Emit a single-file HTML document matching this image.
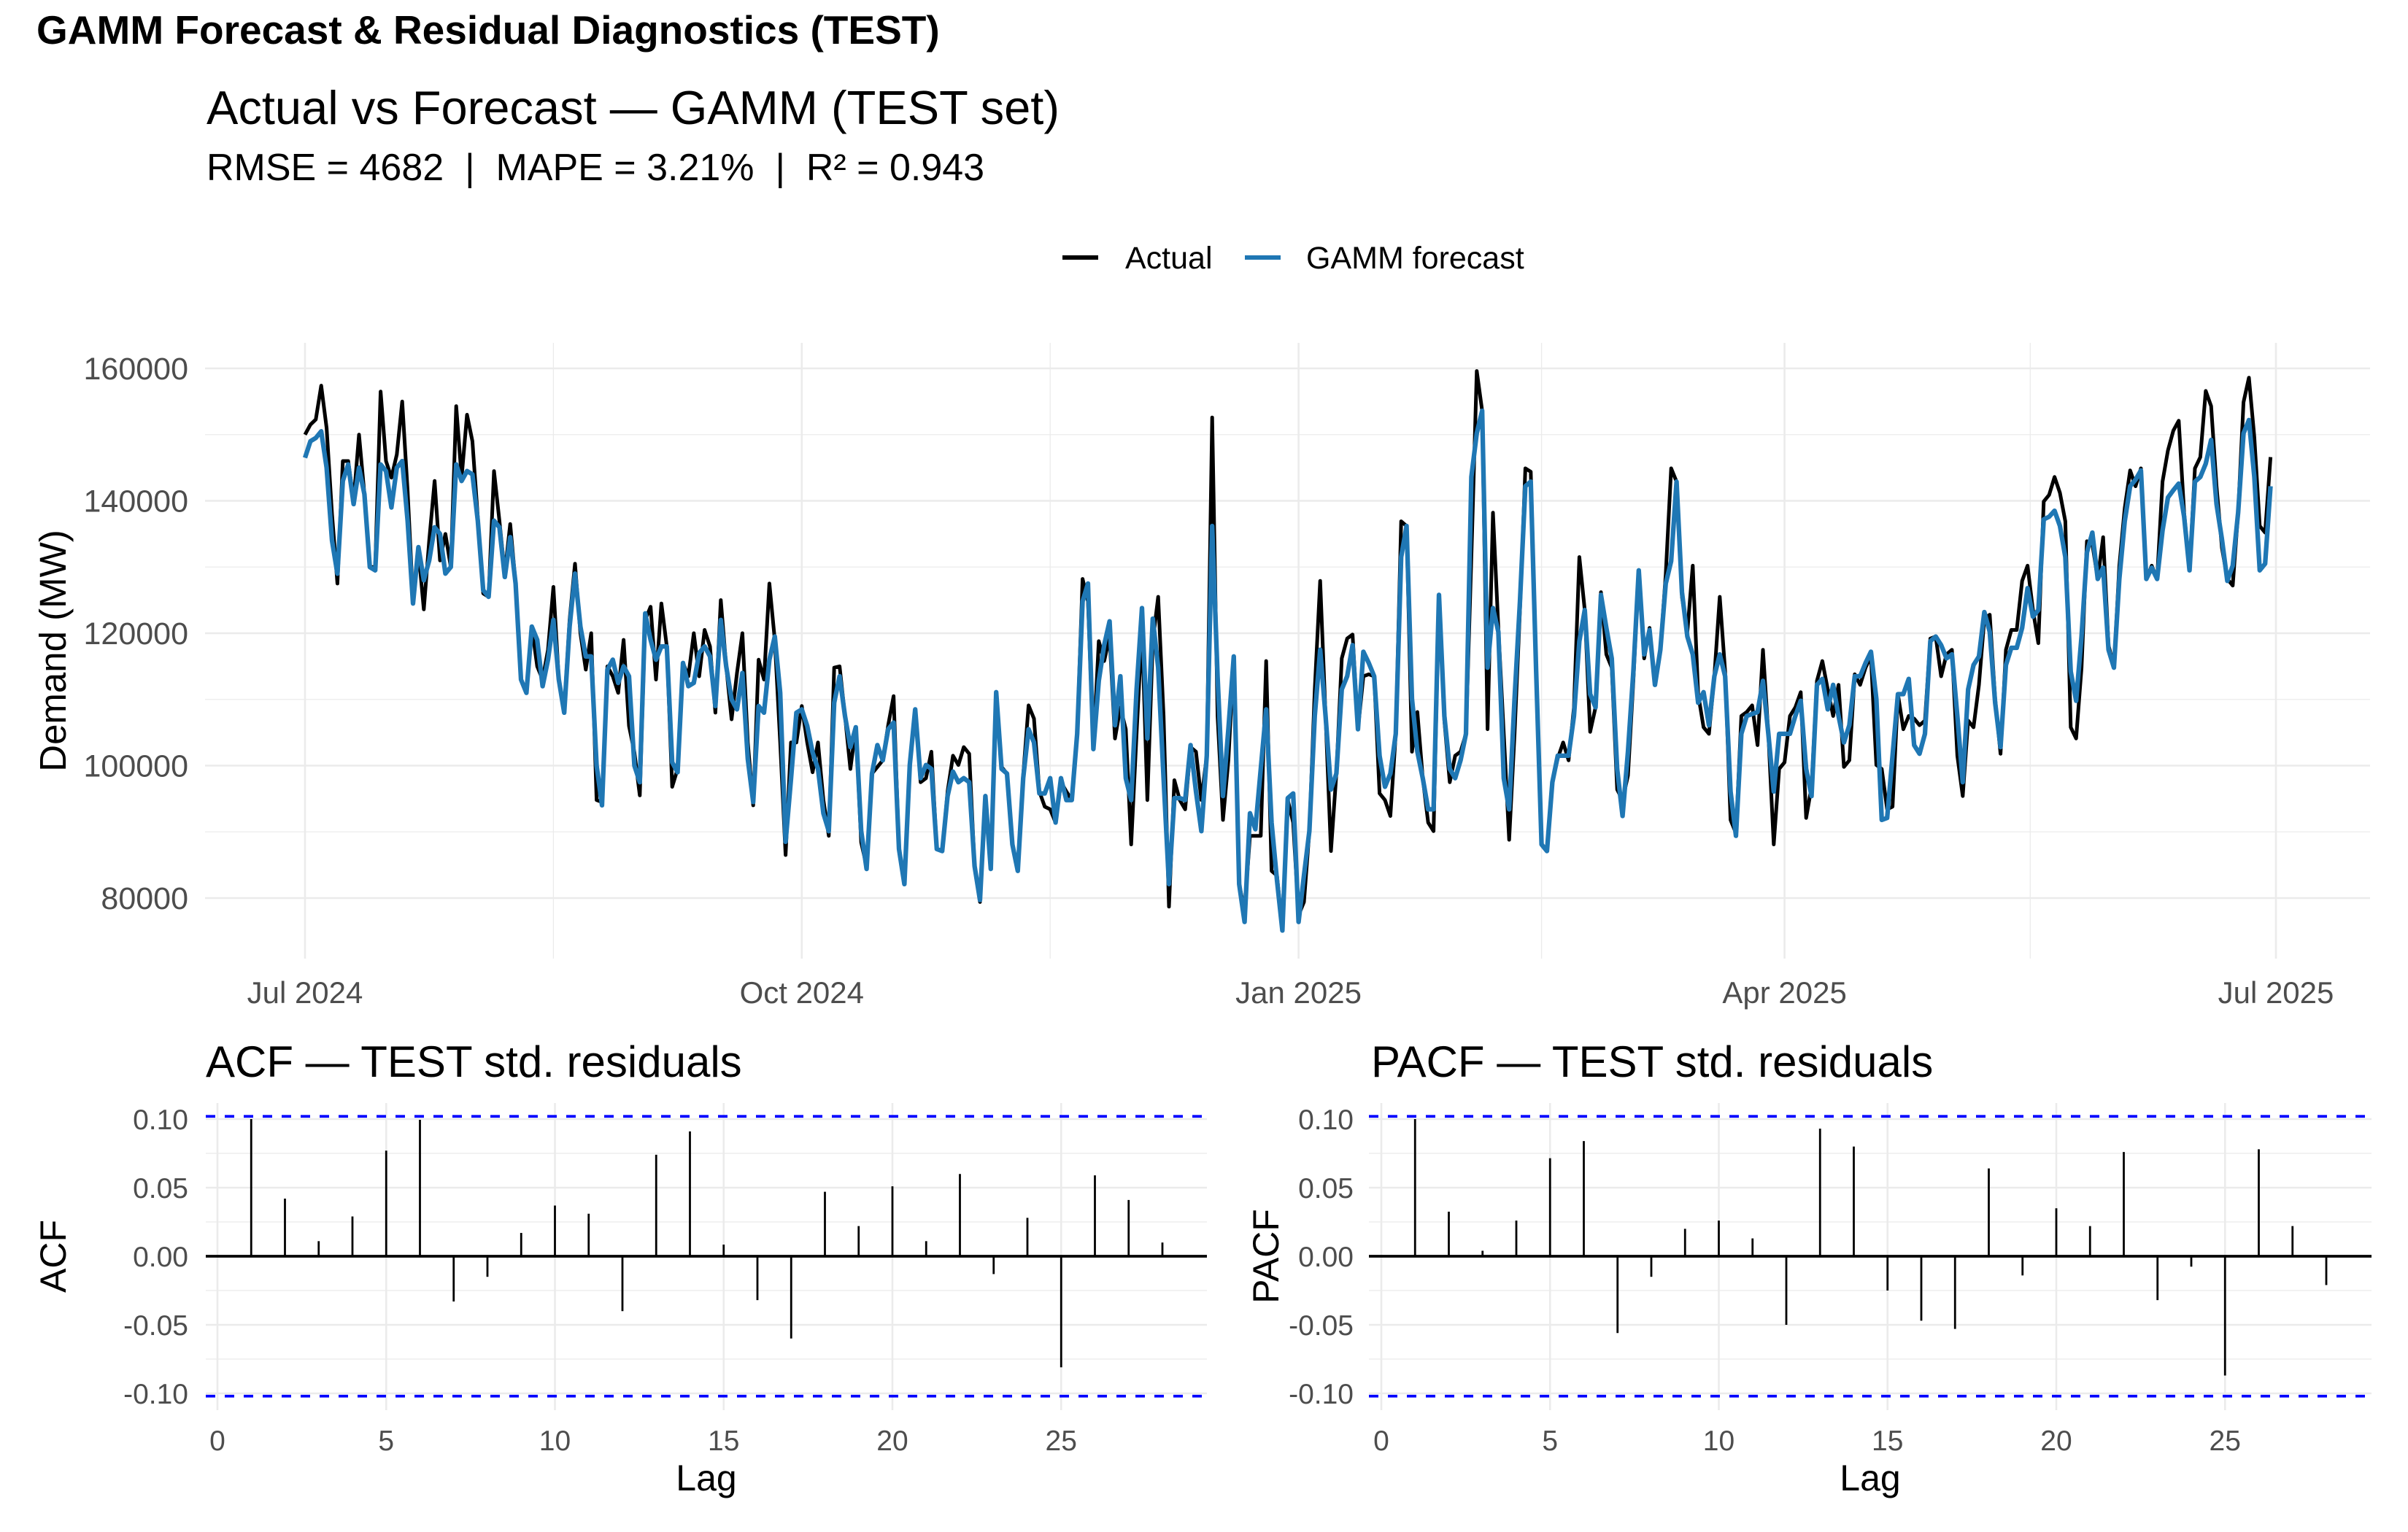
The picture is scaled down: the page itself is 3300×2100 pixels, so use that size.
<!DOCTYPE html>
<html><head><meta charset="utf-8">
<style>
html,body{margin:0;padding:0;background:#fff;}
svg{display:block;font-family:"Liberation Sans",Arial,sans-serif;}
</style></head>
<body>
<svg id="chart" width="3300" height="2100" viewBox="0 0 3300 2100" xmlns="http://www.w3.org/2000/svg">
<rect x="0" y="0" width="3300" height="2100" fill="#ffffff"/>
<text x="50" y="60" font-size="55" font-weight="bold" fill="#000">GAMM Forecast &amp; Residual Diagnostics (TEST)</text>
<text x="283" y="170" font-size="65" fill="#000">Actual vs Forecast — GAMM (TEST set)</text>
<text x="283" y="247" font-size="52" fill="#000" style="white-space:pre" xml:space="preserve">RMSE = 4682  |  MAPE = 3.21%  |  R² = 0.943</text>
<g>
<line x1="1456" y1="353" x2="1505" y2="353" stroke="#000" stroke-width="6"/>
<text x="1542" y="368" font-size="43" fill="#000">Actual</text>
<line x1="1706" y1="353" x2="1755" y2="353" stroke="#1f77b4" stroke-width="6"/>
<text x="1790" y="368" font-size="43" fill="#000">GAMM forecast</text>
</g>
<g id="main"></g>
<g id="acf"></g>
<g id="pacf"></g>
</svg>
<script>
const actual = [150000,151500,152300,157400,151000,138000,127500,146000,146000,140000,150000,141000,130000,130000,156500,146000,143500,147000,155000,141500,125000,132500,123600,134000,143000,131000,135000,130000,154300,143500,153000,149000,137500,126000,125500,144500,137000,129000,136500,127500,113000,111000,121000,115000,113000,117500,127000,113000,108500,122000,130500,120000,114500,120000,94800,94500,115000,113500,111000,119000,106000,102000,95500,122000,124000,113000,124500,118000,96800,99500,115500,113500,120000,113500,120500,118000,108000,125000,115000,107000,114000,120000,103500,94000,116000,113000,127500,119000,103500,86500,103500,103500,
109000,103500,99000,103500,94800,89400,114800,115000,107500,99500,105800,88400,84800,98800,99800,100800,106100,110500,87400,82100,100100,108500,97500,98100,102100,87400,87100,96100,101500,100100,102800,101800,84800,79400,95400,84400,111100,99800,98800,88100,84100,98500,109100,107100,96100,93800,93400,91400,97500,96100,94800,104800,128200,124800,102500,118800,115800,119500,104100,108800,105500,88100,104800,120800,94800,118800,125500,107500,78700,97800,94800,93400,102800,102100,94800,101500,152600,107500,91800,100800,116500,82100,78100,89400,89400,89400,115800,84100,83400,75400,94800,91400,77400,79400,90100,111500,127900,107500,87100,98800,116200,119200,119800,105500,113500,113800,113500,95800,94800,92400,104800,136900,136200,102100,108100,98100,91400,90100,125500,106800,97500,101500,102100,104800,131500,159600,153600,105500,138200,120800,104800,88800,104800,123500,144900,144400,
114800,88100,87100,97500,101100,103500,100800,108800,131500,123500,105100,108800,126200,116800,114800,96400,94800,98500,112800,129500,116200,120800,112200,117500,128900,144900,142900,125500,120200,130200,110800,105800,104800,113500,125500,114200,91800,89800,107500,108100,109100,103100,117500,104800,88100,99500,100500,107500,108800,111100,92100,96800,112800,115800,111500,107500,112200,99800,100800,113800,112200,114800,116500,100100,99500,93400,93800,110800,105500,107500,107100,106100,106800,119200,119500,113500,116800,117500,101500,95400,106800,105800,112200,122200,122800,110100,101800,117500,120500,120500,127900,130200,123500,118500,139900,140900,143600,141200,136900,105800,104100,114800,133900,133500,128200,134500,118200,114800,130200,138900,144600,142200,144900,128200,130200,128200,142900,147600,150600,152100,138200,129500,144900,146600,156600,154300,142200,132900,128200,127200,138200,154900,158600,149600,136200,135200,146600];
const forecast = [146500,149000,149500,150500,145000,134000,129000,143000,145500,139500,145000,141000,130000,129500,145500,144500,139000,145000,146000,137000,124500,133000,128000,131000,136000,135000,129000,130000,145500,143000,144500,144000,137000,126500,125500,137000,136000,128500,134500,127500,113000,111000,121000,119000,112000,116000,122000,113000,108000,121000,129000,121000,116500,116500,100000,94000,114500,116000,112500,115000,113500,100000,97500,123000,119000,116000,118000,118000,100500,99000,115500,112000,112500,117000,118000,116500,109000,122000,115000,110000,108500,114000,101000,94500,109000,108000,116000,119500,111000,88500,98000,108000,
108500,106000,102000,99500,92800,90100,109500,113500,107500,102800,105800,90100,84400,98800,103100,100800,105500,106500,87400,82100,100100,108500,98100,100100,99500,87400,87100,95400,99100,97500,98100,97500,84800,79700,95400,84400,111100,99500,98800,88100,84100,98100,105500,103500,95800,95800,98100,91400,98100,94800,94800,104800,124800,127500,102500,112800,118200,121800,106100,113500,98100,94800,111500,123800,104100,122200,114800,98100,82100,95100,95100,94800,103100,96100,90100,101500,136200,113500,95400,105500,116500,82100,76400,92800,90400,99500,108500,91400,82700,75100,95100,95800,76400,83400,90100,107500,117500,107500,96400,98800,111500,113500,118200,105500,117200,115500,113500,101500,96800,98800,104800,131500,136200,110100,102100,98100,93400,93400,125800,107500,99500,98100,100800,104800,143600,150200,153600,114800,123800,120200,98100,93400,110100,124800,142200,142900,
114200,88100,87100,97500,101500,101500,101500,107500,118800,123500,110800,108800,125800,120800,116200,99500,92400,102100,114200,129500,116800,120500,112200,117500,127500,130900,142900,126200,119500,116800,109500,111100,106100,113500,116800,113500,96100,89400,104800,107500,107800,108100,112800,104800,96100,104800,104800,104800,107500,109800,99500,95400,112200,113100,108500,112200,107500,103500,106100,113500,113500,115500,117200,110100,91800,92100,101500,110800,110800,113100,103100,101800,104800,118800,119500,118200,116200,116800,107500,97500,111500,115200,116500,123200,120200,109500,102800,115200,117800,117800,120800,126800,122500,123500,137200,137600,138500,136200,131500,114200,109800,119500,132200,135200,128200,129900,117500,114800,128200,136900,142200,143200,144600,128200,129900,128200,135500,140500,141600,142600,137600,129500,142900,143600,145600,149200,139500,134200,127900,130200,138200,150200,152200,143600,129500,130500,142200];
const startDate = "2024-07-01";
const yTicks = [80000,100000,120000,140000,160000];
const yMinorTicks = [90000,110000,130000,150000];
const xTickLabels = ["Jul 2024","Oct 2024","Jan 2025","Apr 2025","Jul 2025"];
const xTickDays = [0,92,184,274,365];
const xMinorDays = [46,138,229,319.5];

const acfLags = [1,2,3,4,5,6,7,8,9,10,11,12,13,14,15,16,17,18,19,20,21,22,23,24,25,26,27,28];
const acfValues = [0.100,0.042,0.011,0.029,0.077,0.0995,-0.033,-0.015,0.017,0.037,0.031,-0.040,0.074,0.091,0.0085,-0.032,-0.060,0.047,0.022,0.051,0.011,0.060,-0.013,0.028,-0.081,0.059,0.041,0.010];
const pacfValues = [0.100,0.0325,0.004,0.026,0.0715,0.084,-0.056,-0.015,0.020,0.026,0.013,-0.050,0.093,0.080,-0.025,-0.047,-0.053,0.064,-0.014,0.035,0.022,0.076,-0.032,-0.0076,-0.087,0.078,0.022,-0.021];
const confBound = 0.102;
const corrTicks = [-0.10,-0.05,0.00,0.05,0.10];
const corrTickLabels = ["-0.10","-0.05","0.00","0.05","0.10"];
const corrMinor = [-0.075,-0.025,0.025,0.075];
const lagTicks = [0,5,10,15,20,25];

const NS = "http://www.w3.org/2000/svg";
function mk(parent, tag, attrs, text){
  const e = document.createElementNS(NS, tag);
  for (const k in attrs) e.setAttribute(k, attrs[k]);
  if (text !== undefined) e.textContent = text;
  parent.appendChild(e);
  return e;
}
const GRID = "#ebebeb";

// ---------- Main forecast panel ----------
(function(){
  const g = document.getElementById('main');
  const L=281, R=3248, T=470, B=1314;
  const pxPerDay = 7.40, x0 = 418;
  const x = d => x0 + d*pxPerDay;
  const yv0 = 160000, yp0 = 505, pxPer = (1231-505)/80000;
  const y = v => yp0 + (yv0 - v)*pxPer;
  yMinorTicks.forEach(v=>{
    const l = mk(g,'line',{x1:L,x2:R,y1:y(v),y2:y(v),stroke:GRID,'stroke-width':1.3});
    
    
  });
  xMinorDays.forEach(d=>{
    const l = mk(g,'line',{x1:x(d),x2:x(d),y1:T,y2:B,stroke:GRID,'stroke-width':1.3});
    
    
  });
  yTicks.forEach(v=>{
    const l = mk(g,'line',{x1:L,x2:R,y1:y(v),y2:y(v),stroke:GRID,'stroke-width':2.6});
    
    
    const t = mk(g,'text',{x:258,y:y(v)+15,'font-size':43,fill:'#4d4d4d','text-anchor':'end'},String(v));
    
    
  });
  xTickDays.forEach((d,i)=>{
    const l = mk(g,'line',{x1:x(d),x2:x(d),y1:T,y2:B,stroke:GRID,'stroke-width':2.6});
    
    
    const t = mk(g,'text',{x:x(d),y:1375,'font-size':42,fill:'#4d4d4d','text-anchor':'middle'},xTickLabels[i]);
    
    
  });
  const yt = mk(g,'text',{x:0,y:0,'font-size':51,fill:'#000','text-anchor':'middle',transform:'translate(90,'+((T+B)/2)+') rotate(-90)'},'Demand (MW)');
  
  
  const pa = mk(g,'polyline',{points:actual.map((v,i)=>x(i).toFixed(1)+','+y(v).toFixed(1)).join(' '),fill:'none',stroke:'#000','stroke-width':5,'stroke-linejoin':'round'});
  
  
  const pf = mk(g,'polyline',{points:forecast.map((v,i)=>x(i).toFixed(1)+','+y(v).toFixed(1)).join(' '),fill:'none',stroke:'#1f77b4','stroke-width':6.3,'stroke-linejoin':'round'});
  
  
})();

// ---------- Correlogram panels ----------
function corrPanel(id, values, opt){
  const g = document.getElementById(id);
  const L=opt.L, R=opt.R, T=1512, B=1933;
  const x = lag => opt.lag0 + lag*46.25;
  const y = v => 1722 - v*1880;
  const tt = mk(g,'text',{x:opt.titleX,y:1476,'font-size':60,fill:'#000'},opt.title);
  
  
  corrMinor.forEach(v=>{
    const l = mk(g,'line',{x1:L,x2:R,y1:y(v),y2:y(v),stroke:GRID,'stroke-width':1.3});
    
    
  });
  corrTicks.forEach((v,i)=>{
    const l = mk(g,'line',{x1:L,x2:R,y1:y(v),y2:y(v),stroke:GRID,'stroke-width':2.6});
    
    
    const t = mk(g,'text',{x:opt.labelX,y:y(v)+14,'font-size':39,fill:'#4d4d4d','text-anchor':'end'},corrTickLabels[i]);
    
    
  });
  lagTicks.forEach(v=>{
    const l = mk(g,'line',{x1:x(v),x2:x(v),y1:T,y2:B,stroke:GRID,'stroke-width':2.6});
    
    
    const t = mk(g,'text',{x:x(v),y:1988,'font-size':39,fill:'#4d4d4d','text-anchor':'middle'},String(v));
    
    
  });
  [confBound,-confBound].forEach(v=>{
    const l = mk(g,'line',{x1:L,x2:R,y1:y(v),y2:y(v),stroke:'#0000ff','stroke-width':3.8,'stroke-dasharray':'13 13'});
    
    
  });
  const z = mk(g,'line',{x1:L,x2:R,y1:y(0),y2:y(0),stroke:'#000','stroke-width':3.8});
  
  
  values.forEach((v,i)=>{
    const l = mk(g,'line',{x1:x(acfLags[i]),x2:x(acfLags[i]),y1:y(0),y2:y(v),stroke:'#000','stroke-width':2.8});
    
    
  });
  const xt = mk(g,'text',{x:(L+R)/2,y:2043,'font-size':50,fill:'#000','text-anchor':'middle'},'Lag');
  
  
  const yt = mk(g,'text',{x:0,y:0,'font-size':50,fill:'#000','text-anchor':'middle',transform:'translate('+opt.yTitleX+',1722) rotate(-90)'},opt.yTitle);
  
  
}
corrPanel('acf', acfValues, {L:282,R:1654,lag0:298,titleX:282,labelX:258,yTitleX:90,yTitle:'ACF',title:'ACF — TEST std. residuals'});
corrPanel('pacf', pacfValues, {L:1876,R:3250,lag0:1893,titleX:1879,labelX:1855,yTitleX:1752,yTitle:'PACF',title:'PACF — TEST std. residuals'});
</script>
</body></html>
